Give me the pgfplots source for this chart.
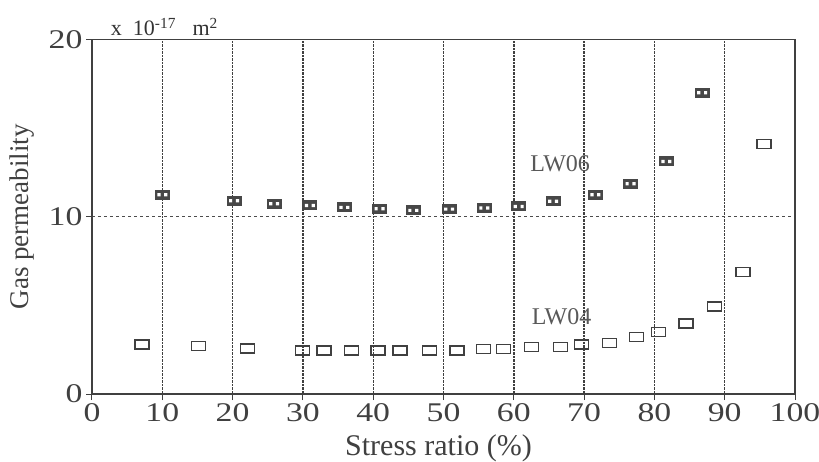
\documentclass[border=0pt]{standalone}
\usepackage{fontspec}
\setmainfont{Liberation Serif}
\newfontfamily\tickfont[FakeStretch=1.25]{Liberation Serif}
\usepackage{pgfplots}
\pgfplotsset{compat=1.18}

% open rectangle (LW04)
\pgfdeclareplotmark{openrect}{%
  \pgfpathrectangle{\pgfpoint{-7pt}{-4.5pt}}{\pgfpoint{14pt}{9pt}}%
  \pgfusepathqstroke}
% dark boxed cross (LW06)
\pgfdeclareplotmark{crossrect}{%
  \pgfscope
  \pgfpathrectangle{\pgfpoint{-7.5pt}{-5pt}}{\pgfpoint{15pt}{10pt}}%
  \pgfusepathqfill
  \pgfsetfillcolor{white}%
  \pgfpathrectangle{\pgfpoint{-5pt}{-1.6pt}}{\pgfpoint{3.2pt}{3.2pt}}%
  \pgfpathrectangle{\pgfpoint{1.8pt}{-1.6pt}}{\pgfpoint{3.2pt}{3.2pt}}%
  \pgfusepathqfill
  \endpgfscope}

\begin{document}
\begin{tikzpicture}
\path[use as bounding box] (0,0) rectangle (819pt,461pt);
\begin{axis}[
    at={(92pt,67pt)}, anchor=south west,
    scale only axis, width=703pt, height=354.5pt,
    xmin=0, xmax=100, ymin=0, ymax=20,
    xtick={0,10,...,100}, ytick={0,10,20},
    tick pos=left, tick align=outside, major tick length=6pt,
    xmajorgrids, ymajorgrids,
    major x grid style={densely dotted, line width=1.4pt, black!75},
    major y grid style={dashed, line width=0.9pt, black!70},
    axis line style={black!75, line width=1.1pt},
    tick style={black!75, line width=1pt},
    /pgf/number format/assume math mode=true,
    tick label style={font=\tickfont\fontsize{27}{27}\selectfont, text=black!75},
    xlabel={Stress ratio (\%)},
    xlabel style={at={(rel axis cs:0.5,0)}, anchor=center, xshift=-5pt, yshift=-54pt,
      font=\fontsize{30}{30}\selectfont, text=black!75},
    ylabel={Gas permeability},
    ylabel style={at={(axis description cs:-0.0996,0.5)}, anchor=center,
      font=\fontsize{27}{27}\selectfont, text=black!75},
    clip=false,
]
\addplot[only marks, mark=openrect, mark options={draw=black!75, line width=1.3pt}]
coordinates {
  (7.1,2.8) (15.1,2.7) (22.1,2.56) (29.9,2.45) (33.0,2.45) (36.9,2.45)
  (40.7,2.45) (43.8,2.45) (48.0,2.45) (51.9,2.45) (55.7,2.54) (58.5,2.54)
  (62.5,2.67) (66.6,2.67) (69.6,2.8) (73.6,2.86) (77.5,3.2) (80.6,3.49)
  (84.5,3.97) (88.5,4.93) (92.6,6.9) (95.6,14.1)
};
\addplot[only marks, mark=crossrect, mark options={fill=black!72}]
coordinates {
  (10.0,11.24) (20.2,10.9) (25.9,10.73) (31.0,10.64) (35.9,10.53)
  (40.9,10.45) (45.7,10.36) (50.8,10.43) (55.8,10.49) (60.7,10.58)
  (65.6,10.88) (71.6,11.24) (76.6,11.86) (81.7,13.12) (86.8,17.0)
};
\node[font=\fontsize{24}{24}\selectfont, text=black!65] at (axis cs:66.6,13.0) {LW06};
\node[font=\fontsize{24}{24}\selectfont, text=black!65] at (axis cs:66.8,4.35) {LW04};
\node[anchor=base west, font=\fontsize{22}{22}\selectfont, text=black!80]
  at (axis cs:2.2,20.2) {x\ \ 10\textsuperscript{-17}\ \ \ m\textsuperscript{2}};
\end{axis}
\end{tikzpicture}
\end{document}
